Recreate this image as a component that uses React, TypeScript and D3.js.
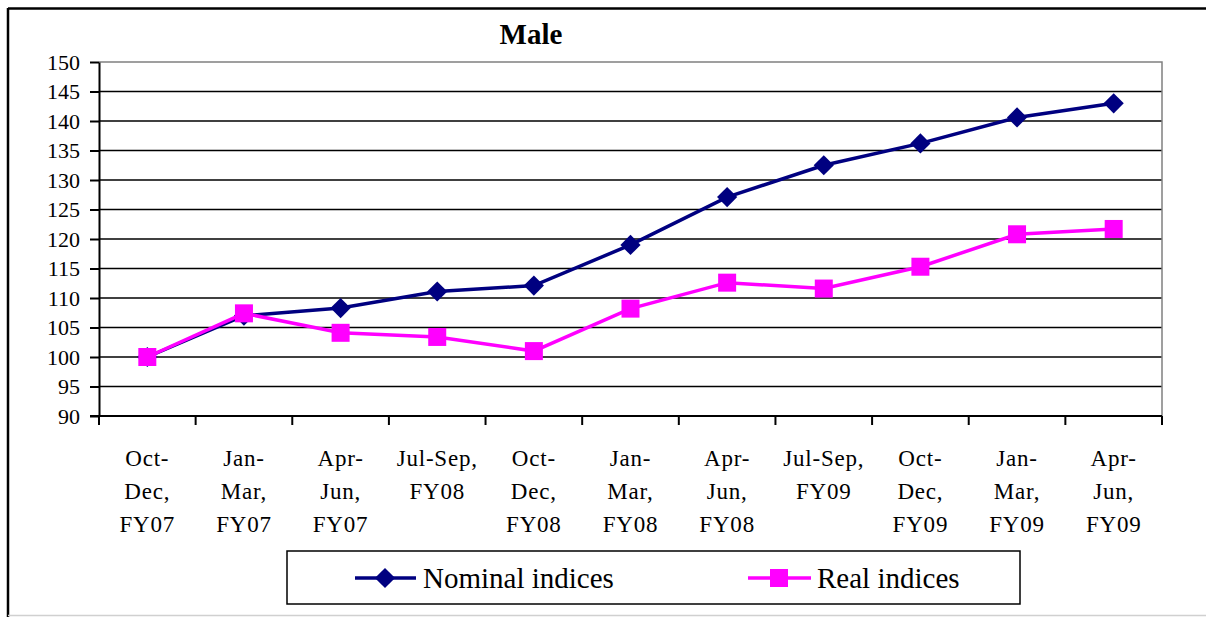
import React, { useRef, useEffect } from "react";
import * as d3 from "d3";

// quarters on the x axis ("\n" = line break in the label)
const categories = [
  "Oct-\nDec,\nFY07",
  "Jan-\nMar,\nFY07",
  "Apr-\nJun,\nFY07",
  "Jul-Sep,\nFY08",
  "Oct-\nDec,\nFY08",
  "Jan-\nMar,\nFY08",
  "Apr-\nJun,\nFY08",
  "Jul-Sep,\nFY09",
  "Oct-\nDec,\nFY09",
  "Jan-\nMar,\nFY09",
  "Apr-\nJun,\nFY09",
];

const nominal = [100, 107.0, 108.3, 111.1, 112.1, 119.0, 127.1, 132.5, 136.2, 140.6, 143.0];
const real = [100, 107.4, 104.1, 103.4, 101.0, 108.2, 112.6, 111.6, 115.3, 120.8, 121.7];

const yTicks = [90, 95, 100, 105, 110, 115, 120, 125, 130, 135, 140, 145, 150];

const NAVY = "#000080";
const MAGENTA = "#FF00FF";
const FONT = "Liberation Serif";

const Chart = () => {
  const svgRef = useRef<SVGSVGElement>(null);

  useEffect(() => {
    const svg = d3.select(svgRef.current);
    const width = 1206;
    const height = 617;
    const left = 99;
    const right = 1162;
    const top = 62;
    const bottom = 416;

    svg.attr("width", width).attr("height", height).attr("font-family", FONT);

    const x = d3.scaleBand().domain(categories).range([left, right]).padding(0);
    const y = d3.scaleLinear().domain([90, 150]).range([bottom, top]);
    const cx = (i: number) => (x(categories[i]) as number) + x.bandwidth() / 2;

    // outer chart frame (cut off at right and bottom)
    svg.append("rect").attr("x", 0).attr("y", 0).attr("width", width).attr("height", height).attr("fill", "#fff");
    svg.append("line").attr("x1", 8).attr("x2", width).attr("y1", 8.5).attr("y2", 8.5).attr("stroke", "#000").attr("stroke-width", 2.5);
    svg.append("line").attr("x1", 8).attr("x2", 8).attr("y1", 8).attr("y2", height).attr("stroke", "#000").attr("stroke-width", 2.5);
    svg.append("line").attr("x1", 8).attr("x2", width).attr("y1", 615.5).attr("y2", 615.5).attr("stroke", "#d0d0d0").attr("stroke-width", 1.5);

    // title
    svg.append("text")
      .attr("x", 531).attr("y", 44)
      .attr("text-anchor", "middle")
      .attr("font-family", FONT).attr("font-size", 29).attr("font-weight", "bold")
      .text("Male");

    // gridlines
    svg.append("g")
      .selectAll("line")
      .data(yTicks.filter((t) => t > 90 && t < 150))
      .enter()
      .append("line")
      .attr("x1", left).attr("x2", right)
      .attr("y1", (d) => y(d)).attr("y2", (d) => y(d))
      .attr("stroke", "#000").attr("stroke-width", 1.3);

    // plot border top/right (gray)
    svg.append("path")
      .attr("d", `M${left},${y(150)}H${right}V${bottom}`)
      .attr("fill", "none").attr("stroke", "#808080").attr("stroke-width", 1.5);

    // y axis
    const yAxis = svg.append("g").attr("transform", `translate(${left},0)`)
      .call(d3.axisLeft(y).tickValues(yTicks).tickSize(9).tickSizeOuter(0).tickPadding(10));
    yAxis.attr("font-family", FONT);
    yAxis.select(".domain").attr("stroke", "#000").attr("stroke-width", 2);
    yAxis.selectAll(".tick line").attr("stroke", "#000").attr("stroke-width", 2);
    yAxis.selectAll(".tick text")
      .attr("font-family", FONT).attr("font-size", 22).attr("fill", "#000")
      .attr("dy", "0.33em");

    // x axis line and boundary ticks
    svg.append("line")
      .attr("x1", left - 9).attr("x2", right).attr("y1", bottom).attr("y2", bottom)
      .attr("stroke", "#000").attr("stroke-width", 2);
    const bounds = categories.map((c) => x(c) as number).concat([right]);
    svg.append("g")
      .selectAll("line")
      .data(bounds)
      .enter()
      .append("line")
      .attr("x1", (d) => d).attr("x2", (d) => d)
      .attr("y1", bottom).attr("y2", bottom + 9)
      .attr("stroke", "#000").attr("stroke-width", 2);

    // category labels
    const labels = svg.append("g");
    categories.forEach((c, i) => {
      const t = labels.append("text")
        .attr("x", cx(i)).attr("y", 466)
        .attr("text-anchor", "middle")
        .attr("font-family", FONT).attr("font-size", 23)
        .attr("letter-spacing", 0.8);
      c.split("\n").forEach((line, j) => {
        t.append("tspan").attr("x", cx(i)).attr("dy", j === 0 ? 0 : 33).text(line);
      });
    });

    const line = d3.line<number>().x((_, i) => cx(i)).y((d) => y(d));
    const diamond = d3.symbol().type(d3.symbolDiamond2).size(260);

    // nominal series
    svg.append("path").datum(nominal)
      .attr("d", line).attr("fill", "none").attr("stroke", NAVY).attr("stroke-width", 3.5);
    svg.append("g").selectAll("path").data(nominal).enter().append("path")
      .attr("d", diamond)
      .attr("transform", (d, i) => `translate(${cx(i)},${y(d)})`)
      .attr("fill", NAVY);

    // real series
    svg.append("path").datum(real)
      .attr("d", line).attr("fill", "none").attr("stroke", MAGENTA).attr("stroke-width", 3.5);
    svg.append("g").selectAll("rect").data(real).enter().append("rect")
      .attr("x", (_, i) => cx(i) - 9).attr("y", (d) => y(d) - 9)
      .attr("width", 18).attr("height", 18)
      .attr("fill", MAGENTA);

    // legend
    const lg = svg.append("g");
    lg.append("rect").attr("x", 287).attr("y", 551).attr("width", 733).attr("height", 53)
      .attr("fill", "#fff").attr("stroke", "#000").attr("stroke-width", 1.5);
    lg.append("line").attr("x1", 355).attr("x2", 416).attr("y1", 578).attr("y2", 578)
      .attr("stroke", NAVY).attr("stroke-width", 3.5);
    lg.append("path").attr("d", diamond).attr("transform", "translate(385,578)").attr("fill", NAVY);
    lg.append("text").attr("x", 423).attr("y", 588)
      .attr("font-family", FONT).attr("font-size", 29).text("Nominal indices");
    lg.append("line").attr("x1", 748).attr("x2", 811).attr("y1", 578).attr("y2", 578)
      .attr("stroke", MAGENTA).attr("stroke-width", 3.5);
    lg.append("rect").attr("x", 770).attr("y", 569).attr("width", 18).attr("height", 18).attr("fill", MAGENTA);
    lg.append("text").attr("x", 817).attr("y", 588)
      .attr("font-family", FONT).attr("font-size", 29).text("Real indices");

    return () => {
      svg.selectAll("*").remove();
    };
  }, []);

  return <svg ref={svgRef} style={{ position: "absolute", left: 0, top: 0, display: "block" }} />;
};

export default function App() {
  return <Chart />;
}
